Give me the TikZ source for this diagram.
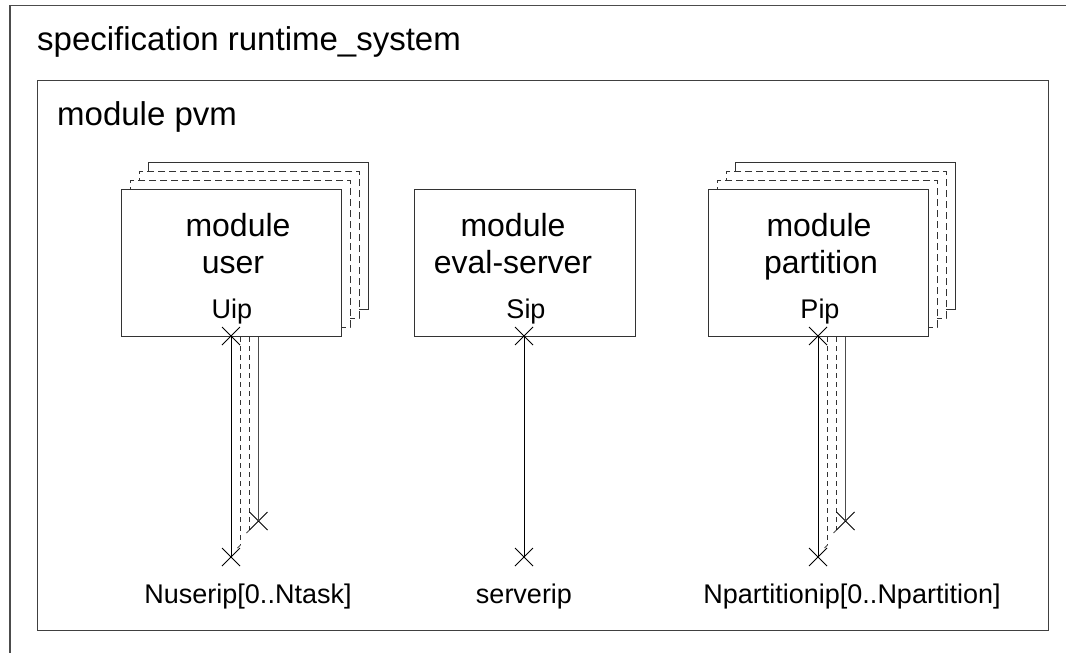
\documentclass[tikz,border=0pt]{standalone}
\usepackage{fontspec}
\setmainfont{Liberation Sans}
\usetikzlibrary{shapes.misc}
\begin{document}
\begin{tikzpicture}[x=1pt,y=-1pt,
  frame/.style={draw=black!70, line width=1.2pt},
  modbox/.style={draw=black!80, line width=1pt, fill=white, minimum width=220pt, minimum height=147pt, inner sep=0pt, outer sep=0pt, anchor=north west},
  backdash/.style={dash pattern=on 7pt off 4pt},
  conn/.style={draw=black, line width=0.9pt},
  backconn/.style={draw=black!70, line width=0.9pt},
  dashconn/.style={draw=black!80, line width=0.9pt, dash pattern=on 5pt off 4pt},
  xmark/.style={cross out, draw=black, line width=0.8pt, minimum size=18pt, inner sep=0pt, outer sep=0pt},
  bigtext/.style={font=\fontsize{32}{38}\selectfont, anchor=base, inner sep=0pt},
  titletext/.style={font=\fontsize{33}{40}\selectfont, anchor=base west, inner sep=0pt},
  porttext/.style={font=\fontsize{27}{32}\selectfont, anchor=base, inner sep=0pt}]
\useasboundingbox (0,0) rectangle (1066,653);
% outer specification frame (cropped at right and bottom)
\coordinate (specBL) at (10,700);
\coordinate (specTL) at (10,5.5);
\coordinate (specTR) at (1100,5.5);
\draw[frame] (specBL) -- (specTL) -- (specTR);
\node[titletext] (spectitle) at (37,50) {specification runtime\_system};
% module pvm frame
\node[draw=black!75, line width=1.2pt, minimum width=1011pt, minimum height=550pt, inner sep=0pt, anchor=north west] (pvm) at (37,80) {};
\node[titletext] (pvmtitle) at (57,125) {module pvm};
% stacked module boxes
\foreach \cx/\n in {231/u, 818/p} {
  \node[modbox] (\n3) at ({\cx-110+27},162) {};
  \node[modbox, backdash] (\n2) at ({\cx-110+18},171) {};
  \node[modbox, backdash] (\n1) at ({\cx-110+9},180) {};
  \node[modbox] (\n0) at ({\cx-110},189) {};
}
\node[modbox, minimum width=221pt] (s0) at (414,189) {};
% box texts
\node[bigtext] (ut1) at (238,236) {module};
\node[bigtext] (ut2) at (233,273) {user};
\node[porttext] (uip) at (232,318) {Uip};
\node[bigtext] (st1) at (513,236) {module};
\node[bigtext] (st2) at (513,273) {eval-server};
\node[porttext] (sip) at (526,318) {Sip};
\node[bigtext] (pt1) at (819,236) {module};
\node[bigtext] (pt2) at (821,273) {partition};
\node[porttext] (pip) at (820,318) {Pip};
% stacked connector lines
\foreach \cx/\n in {231/u, 818/p} {
  \coordinate (\n d1a) at ({\cx+9.5},337);
  \coordinate (\n d1b) at ({\cx+9.5},545);
  \coordinate (\n d1c) at ({\cx+6.5},548);
  \coordinate (\n d2a) at ({\cx+18.5},337);
  \coordinate (\n d2b) at ({\cx+18.5},530);
  \coordinate (\n d2c) at ({\cx+15.5},533);
  \draw[dashconn] (\n d1a) -- (\n d1b);
  \draw[dashconn] (\n d2a) -- (\n d2b);
  \draw[backconn] (\n d1b) -- (\n d1c);
  \draw[backconn] (\n d2b) -- (\n d2c);
  \coordinate (\n s3a) at ({\cx+27.5},337);
  \node[xmark] (\n x3) at ({\cx+27.5},521) {};
  \draw[backconn] (\n s3a) -- (\n x3.center);
  \node[xmark] (\n xa) at (\cx,336) {};
  \node[xmark] (\n xb) at (\cx,557) {};
  \draw[conn] (\n xa.center) -- (\n xb.center);
}
\node[xmark] (sxa) at (524,336) {};
\node[xmark] (sxb) at (524,557) {};
\draw[conn] (sxa.center) -- (sxb.center);
% port instance labels
\node[porttext] (ulab) at (248,603) {Nuserip[0..Ntask]};
\node[porttext] (slab) at (524,603) {serverip};
\node[porttext] (plab) at (852,603) {Npartitionip[0..Npartition]};
\end{tikzpicture}
\end{document}
